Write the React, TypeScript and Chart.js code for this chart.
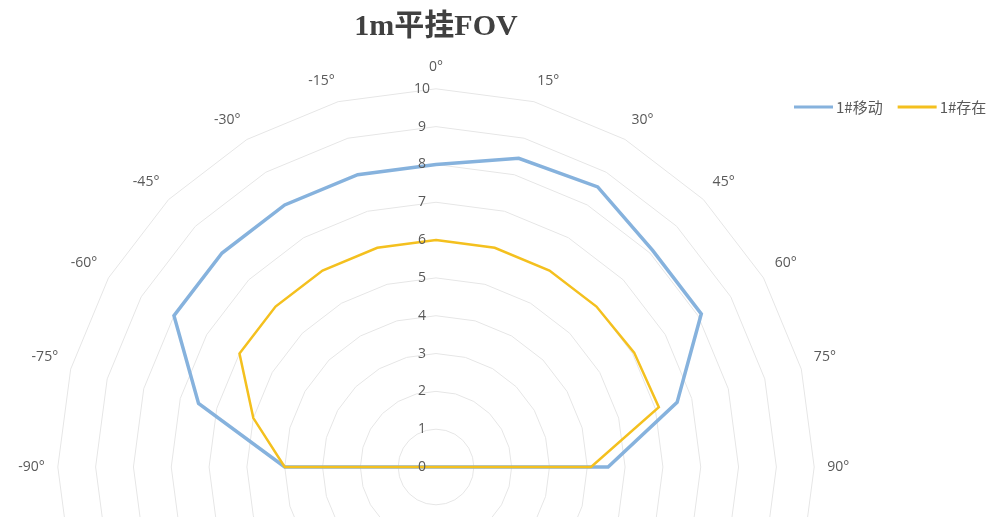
import React, { useEffect, useRef } from 'react';
import { Chart, registerables } from 'chart.js';

Chart.register(...registerables);

// ---- data ----
const angleLabels = [
  '0°', '15°', '30°', '45°', '60°', '75°', '90°', '105°', '120°', '135°', '150°', '165°',
  '180°', '-165°', '-150°', '-135°', '-120°', '-105°', '-90°', '-75°', '-60°', '-45°', '-30°', '-15°',
];
const moveValues = [8.0, 8.45, 8.55, 8.1, 8.1, 6.6, 4.55, 0, 0, 0, 0, 0, 0, 0, 0, 0, 0, 0, 4.0, 6.5, 8.0, 8.0, 8.0, 8.0];
const presenceValues = [6.0, 6.0, 6.0, 6.0, 6.05, 6.1, 4.1, 0, 0, 0, 0, 0, 0, 0, 0, 0, 0, 0, 4.0, 5.0, 6.0, 6.0, 6.0, 6.0];
const seriesNames = ['1#移动', '1#存在'];
const seriesColors = ['#86B2DD', '#F4C01E'];
const titleText = '1m平挂FOV';
const axisMin = 0;
const axisMax = 10;
const axisStep = 1;

const LABEL_FONT = "'Open Sans', 'Noto Sans', 'Noto Sans CJK SC', sans-serif";
const LEGEND_FONT = "15px 'Noto Sans CJK SC', 'Noto Sans', sans-serif";

const legendPlugin = {
  id: 'inlineLegend',
  afterDraw(chart: any) {
    const ctx = chart.ctx;
    ctx.save();
    ctx.font = LEGEND_FONT;
    ctx.textBaseline = 'middle';
    ctx.textAlign = 'left';
    let x = 808;
    const y = 107;
    chart.data.datasets.forEach((ds: any) => {
      ctx.strokeStyle = ds.borderColor;
      ctx.lineWidth = 3;
      ctx.beginPath();
      ctx.moveTo(x, y);
      ctx.lineTo(x + 39, y);
      ctx.stroke();
      x += 42;
      ctx.fillStyle = '#595959';
      ctx.fillText(ds.label, x, y);
      x += ctx.measureText(ds.label).width + 15;
    });
    ctx.restore();
  },
};

export default function App() {
  const ref = useRef<HTMLCanvasElement | null>(null);

  useEffect(() => {
    if (!ref.current) return;
    const chart = new Chart(ref.current, {
      type: 'radar',
      data: {
        labels: angleLabels,
        datasets: [
          {
            label: seriesNames[0],
            data: moveValues,
            borderColor: seriesColors[0],
            backgroundColor: seriesColors[0],
            borderWidth: 3.5,
            pointRadius: 0,
            fill: false,
            tension: 0,
            order: 2,
          },
          {
            label: seriesNames[1],
            data: presenceValues,
            borderColor: seriesColors[1],
            backgroundColor: seriesColors[1],
            borderWidth: 2.5,
            pointRadius: 0,
            fill: false,
            tension: 0,
            order: 1,
          },
        ],
      },
      options: {
        responsive: false,
        animation: false,
        layout: { padding: { left: 0, right: 110, top: 0, bottom: 5 } },
        plugins: {
          legend: { display: false },
          tooltip: { enabled: false },
          title: {
            display: true,
            text: titleText,
            color: '#404040',
            font: { family: "'Liberation Serif', 'DejaVu Serif', 'Noto Sans CJK SC', serif", size: 30, weight: 'bold' },
            padding: { top: 9, bottom: 14 },
          },
        },
        scales: {
          r: {
            min: axisMin,
            max: axisMax,
            startAngle: 0,
            afterBuildTicks: (scale: any) => {
              scale.ticks = [{ value: axisMin }, ...scale.ticks];
            },
            ticks: {
              stepSize: axisStep,
              color: '#595959',
              font: { family: LABEL_FONT, size: 14 },
              showLabelBackdrop: false,
              backdropPadding: 0,
              z: 1,
              callback: (v: any) => String(v) + '\u2003\u2003',
            },
            grid: { color: '#E6E6E6', lineWidth: 1, circular: false },
            angleLines: { display: false },
            pointLabels: {
              color: '#595959',
              font: { family: LABEL_FONT, size: 14 },
              padding: 6,
            },
          },
        },
      },
      plugins: [legendPlugin],
    } as any);
    return () => chart.destroy();
  }, []);

  return (
    <div
      style={{
        position: 'fixed',
        left: 0,
        top: 0,
        width: 996,
        height: 517,
        overflow: 'hidden',
        background: '#ffffff',
      }}
    >
      <canvas ref={ref} width={1010} height={880} style={{ position: 'absolute', left: -14, top: 0 }} />
    </div>
  );
}
